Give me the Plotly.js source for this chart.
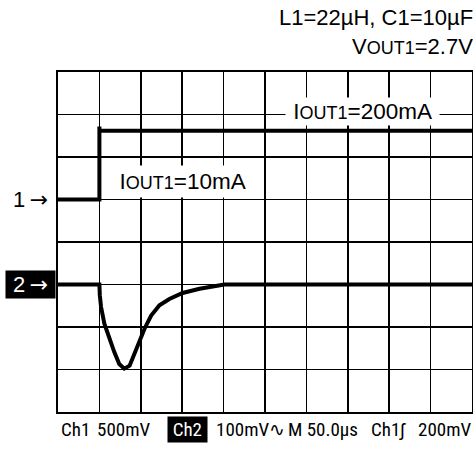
<!DOCTYPE html>
<html><head><meta charset="utf-8">
<script src="https://cdn.plot.ly/plotly-3.0.1.min.js"></script>
<style>html,body{margin:0;padding:0;background:#fff}#chart{width:473px;height:449px}</style>
</head><body><div id="chart"></div>
<script>
// Values in scope divisions (x: 10 divisions, y: 8 divisions from bottom)
const ch1_x = [0, 1.0, 1.0, 1.0, 10];
const ch1_y = [5.0, 5.0, 6.72, 6.62, 6.62];
const ch2_x = [0, 1.0, 1.01, 1.04, 1.12, 1.24, 1.36, 1.48, 1.60, 1.73, 1.85, 1.97, 2.09, 2.25, 2.45, 2.69, 3.01, 3.42, 3.82, 4.02, 10];
const ch2_y = [3.0, 3.0, 2.75, 2.47, 2.08, 1.72, 1.41, 1.13, 1.02, 1.09, 1.37, 1.68, 1.96, 2.27, 2.51, 2.66, 2.80, 2.90, 2.98, 3.0, 3.0];
const ch1_level = 5, ch2_level = 3;
const topLabels = ["L1=22µH, C1=10µF", "V<span style=\"font-size:18px\">OUT1</span>=2.7V"];
const loadLabels = ["I<span style=\"font-size:18px\">OUT1</span>=200mA", "I<span style=\"font-size:18px\">OUT1</span>=10mA"];
const bottomLabels = ["Ch1", "500mV", "Ch2", "100mV\u223F", "M 50.0µs", "Ch1\u0283", "200mV"];

const W = 473, H = 449, L = 58, R = 472, T = 72, B = 412;
const px = x => (x - L) / (R - L);
const py = y => (B - y) / (B - T);
const F = 'Liberation Sans, Arial, sans-serif';

// pick an installed condensed face if any, else shrink the regular face
function hasFont(name) {
  const c = document.createElement('canvas').getContext('2d');
  const s = 'Ch1 500mV 100mV M 50.0us';
  c.font = '40px monospace'; const a = c.measureText(s).width;
  c.font = '40px "' + name + '", monospace'; const b = c.measureText(s).width;
  return Math.abs(a - b) > 0.5;
}
let FN = F, FNsize = 16;
for (const n of ['Liberation Sans Narrow', 'Arial Narrow', 'Roboto Condensed', 'DejaVu Sans Condensed']) {
  if (hasFont(n)) { FN = '"' + n + '", ' + F; FNsize = (n === 'DejaVu Sans Condensed') ? 15 : 19; break; }
}

const traces = [
  {x: ch1_x, y: ch1_y, mode: 'lines', line: {color: '#000', width: 4}, hoverinfo: 'skip'},
  {x: ch2_x, y: ch2_y, mode: 'lines', line: {color: '#000', width: 4}, hoverinfo: 'skip'}
];

const arrow = '<span style="font-family:DejaVu Sans">\u2192</span>';
const ann = [];
ann.push({xref:'paper', yref:'paper', x: px(475), y: py(18), xanchor:'right', yanchor:'middle', text: topLabels[0], showarrow:false, font:{family:F, size:22, color:'#000'}});
ann.push({xref:'paper', yref:'paper', x: px(475), y: py(46), xanchor:'right', yanchor:'middle', text: topLabels[1], showarrow:false, font:{family:F, size:22, color:'#000'}});
ann.push({xref:'paper', yref:'paper', x: px(362), y: py(111), xanchor:'center', yanchor:'middle', text: '\u00A0' + loadLabels[0] + '\u00A0', showarrow:false, bgcolor:'#fff', borderpad:1, font:{family:F, size:22.5, color:'#000'}});
ann.push({xref:'paper', yref:'paper', x: px(182), y: py(181), xanchor:'center', yanchor:'middle', text: '\u00A0\u00A0' + loadLabels[1] + '\u00A0\u00A0', showarrow:false, bgcolor:'#fff', borderpad:3, font:{family:F, size:22.5, color:'#000'}});
ann.push({xref:'paper', yref:'y', x: px(11), y: ch1_level, xanchor:'left', yanchor:'middle', text: '1\u2009' + arrow, showarrow:false, font:{family:F, size:22, color:'#000'}});
ann.push({xref:'paper', yref:'y', x: px(5), y: ch2_level, xanchor:'left', yanchor:'middle', text: '\u00A02\u2009' + arrow + '\u00A0', showarrow:false, bgcolor:'#000', borderpad:1, font:{family:F, size:22, color:'#fff'}});

const bx = [75, 123.5, 187, 250, 323, 388.5, 444.5];
bottomLabels.forEach((t, i) => {
  const isCh2 = i === 2;
  ann.push({xref:'paper', yref:'paper', x: px(bx[i]), y: py(429), xanchor:'center', yanchor:'middle', text: isCh2 ? '\u2009' + t + '\u2009' : t, showarrow:false,
    bgcolor: isCh2 ? '#000' : 'rgba(0,0,0,0)', borderpad: isCh2 ? 1 : 0,
    font:{family:FN, size:FNsize, color: isCh2 ? '#fff' : '#000'}});
});

const axisCommon = {showgrid:true, gridcolor:'#000', gridwidth:1.5, dtick:1, tick0:0, showticklabels:false, ticks:'',
  zeroline:false, showline:true, linecolor:'#000', linewidth:2, mirror:true, fixedrange:true};

const layout = {
  width: W, height: H,
  margin: {l: L, r: W - R, t: T, b: H - B, pad: 0},
  paper_bgcolor:'#fff', plot_bgcolor:'#fff',
  showlegend:false,
  xaxis: Object.assign({range:[0, 10]}, axisCommon),
  yaxis: Object.assign({range:[0, 8]}, axisCommon),
  annotations: ann
};
Plotly.newPlot('chart', traces, layout, {staticPlot:true, displayModeBar:false});
</script></body></html>
